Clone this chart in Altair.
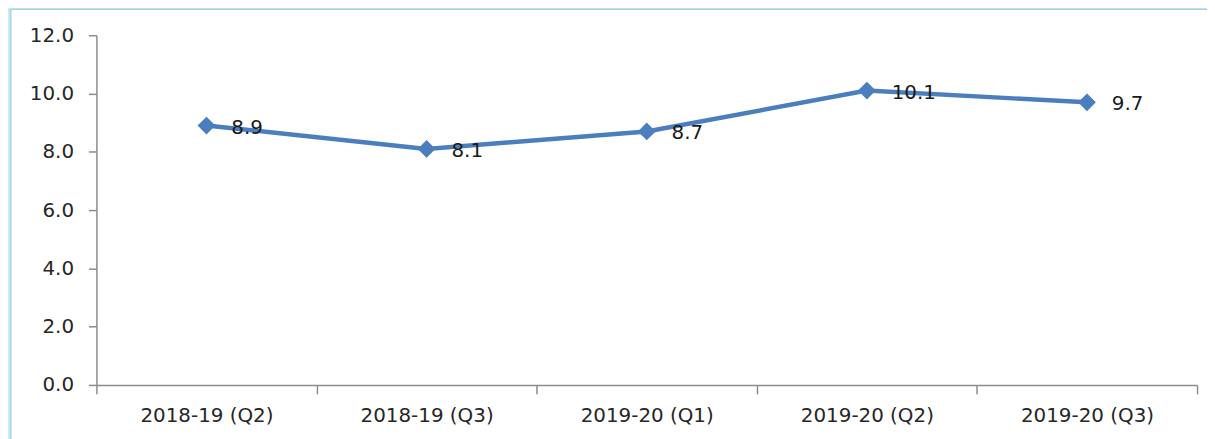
import altair as alt
import pandas as pd

quarters = ["2018-19 (Q2)", "2018-19 (Q3)", "2019-20 (Q1)", "2019-20 (Q2)", "2019-20 (Q3)"]
values = [8.9, 8.1, 8.7, 10.1, 9.7]
labels = ["8.9", "8.1", "8.7", "10.1", "9.7"]
y_ticks = [0, 2, 4, 6, 8, 10, 12]

df = pd.DataFrame({"quarter": quarters, "value": values, "label": labels})

FONT = "DejaVu Sans"
BLUE = "#4A7EBF"

x = alt.X("quarter:N", sort=quarters, title=None,
          scale=alt.Scale(paddingInner=0, paddingOuter=0),
          axis=alt.Axis(labelAngle=0, labelFontSize=20, labelFont=FONT, labelColor="#262626",
                        domainColor="#8C8C8C", tickColor="#8C8C8C", tickSize=9,
                        tickBand="extent", labelPadding=12, domainWidth=1.5, tickWidth=1.5,
                        zindex=1))
y = alt.Y("value:Q", title=None,
          scale=alt.Scale(domain=[0, 12], nice=False),
          axis=alt.Axis(values=y_ticks, format=".1f", labelFontSize=20, labelFont=FONT,
                        labelColor="#262626", domainColor="#8C8C8C", tickColor="#8C8C8C",
                        tickSize=8, labelPadding=15, grid=False, domainWidth=1.5, tickWidth=1.5,
                        zindex=1))

bg = alt.Chart(df).mark_rect(color="white", stroke="#A9CFE0", strokeWidth=1).encode(
    x=alt.value(-86), x2=alt.value(1220), y=alt.value(-26), y2=alt.value(500)
)

base = alt.Chart(df)
line = base.mark_line(color=BLUE, strokeWidth=4.5).encode(x=x, y=y)
pts = base.mark_point(shape="diamond", filled=True, color=BLUE, size=320, opacity=1).encode(x=x, y=y)
txt = base.mark_text(align="left", baseline="middle", dx=25, dy=2, fontSize=20, font=FONT,
                     color="#1A1A1A").encode(x=x, y=y, text="label:N")

chart = alt.layer(bg, line, pts, txt).properties(
    width=1108, height=352,
    background="#C6ECFA",
    padding={"left": 89, "top": 26, "right": 10, "bottom": 53},
    autosize=alt.AutoSizeParams(type="none"),
).configure_view(stroke=None)

chart.save("out.html", embed_options={"renderer": "svg", "actions": False})
